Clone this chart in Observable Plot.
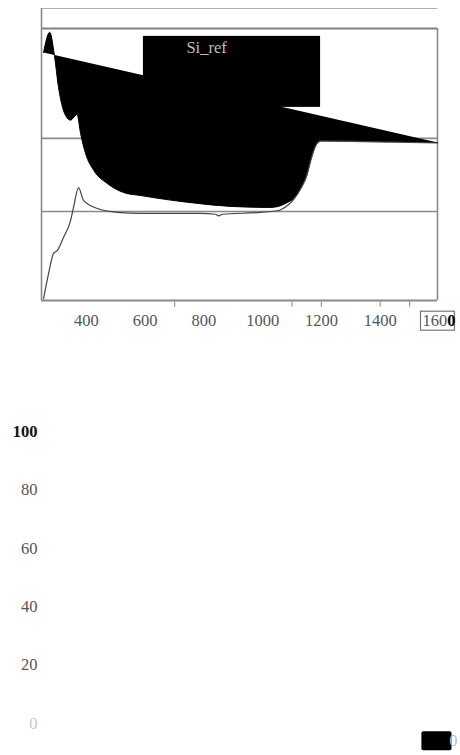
<!DOCTYPE html>
<html>
<head>
<meta charset="utf-8">
<script src="https://cdn.jsdelivr.net/npm/d3@7"></script>
<script src="https://cdn.jsdelivr.net/npm/@observablehq/plot@0.6"></script>
<style>
  html, body { margin: 0; padding: 0; background: #fff; }
  #chart svg { display: block; }
</style>
</head>
<body>
<div id="chart"></div>
<script>
// ---- data ----
const upperX = [254, 275, 291, 305, 329, 346, 358, 368, 380, 397, 425, 471, 526, 584, 680, 778, 890, 1027, 1084, 1105, 1129, 1150, 1163, 1180, 1197, 1300, 1450, 1595];
const upperY = [91.2, 98.6, 90.1, 78.3, 68.0, 66.3, 67.5, 68.4, 61.4, 54.0, 47.8, 43.0, 39.7, 38.6, 37.0, 35.7, 34.6, 34.2, 36.0, 37.5, 41.2, 46.0, 51.5, 57.0, 58.8, 58.7, 58.4, 58.1];

const lowerX = [254, 271, 288, 301, 322, 346, 356, 373, 390, 438, 506, 584, 788, 839, 850, 863, 992, 1054, 1084, 1105, 1129, 1150, 1163, 1180, 1197, 1300, 1450, 1595];
const lowerY = [0.7, 9.9, 17.3, 18.4, 23.2, 29.4, 34.2, 41.5, 36.8, 33.8, 32.4, 32.0, 32.0, 31.7, 31.1, 31.7, 32.4, 33.1, 34.9, 37.1, 41.0, 46.0, 51.3, 56.8, 58.6, 58.5, 58.2, 57.9];

const xTicks = [400, 600, 800, 1000, 1200, 1400, 1600];
const xTickMarks = [700, 1100, 1200, 1400, 1500];
const gridValues = [32.7, 59.6];
const legendLabels = ["Si_ref"];
const legendX1 = [594], legendX2 = [1197], legendY1 = [71.0], legendY2 = [97.1];
const legendTextX = [809], legendTextY = [92.8];
const yTicksLower = [0, 20, 40, 60, 80, 100];
const xTicksLower = [1600];

const xDomain = [247, 1595];

const upper = upperX.map((x, i) => ({x, y: upperY[i]}));
const lower = lowerX.map((x, i) => ({x, y: lowerY[i]}));
const legend = legendLabels.map((t, i) => ({t, x1: legendX1[i], x2: legendX2[i], y1: legendY1[i], y2: legendY2[i], tx: legendTextX[i], ty: legendTextY[i]}));

const font = "'Liberation Serif', 'DejaVu Serif', serif";
const fs = 16.5;

const topPlot = Plot.plot({
  width: 460, height: 340,
  marginLeft: 41, marginRight: 23, marginTop: 8, marginBottom: 40,
  x: {domain: xDomain},
  y: {domain: [0, 107.35], axis: null},
  style: {fontFamily: font, fontSize: fs + "px", color: "#555", background: "white", overflow: "visible"},
  marks: [
    Plot.ruleY(gridValues, {stroke: "#8a8a8a", strokeWidth: 1.6}),
    Plot.ruleY([100], {stroke: "#808080", strokeWidth: 2.2}),
    Plot.ruleY([107.35], {stroke: "#b0b0b0", strokeWidth: 1.2}),
    Plot.ruleY([0], {stroke: "#8a8a8a", strokeWidth: 1.8}),
    Plot.ruleX([xDomain[0]], {stroke: "#8a8a8a", strokeWidth: 1.6}),
    Plot.ruleX([xDomain[1]], {y1: 0, y2: 100, stroke: "#8a8a8a", strokeWidth: 1.6}),
    Plot.ruleX(xTickMarks, {y1: 0, y2: -2.5, stroke: "#999", strokeWidth: 1.2}),
    Plot.line(upper, {x: "x", y: "y", fill: "black", stroke: "black", strokeWidth: 1, curve: "monotone-x"}),
    Plot.line(lower, {x: "x", y: "y", stroke: "#444", strokeWidth: 1.2, curve: "monotone-x"}),
    Plot.rect(legend, {x1: "x1", x2: "x2", y1: "y1", y2: "y2", fill: "black"}),
    Plot.text(legend, {x: "tx", y: "ty", text: "t", fill: "#bdbdbd", fontSize: fs, fontFamily: font}),
    Plot.axisX(xTicks, {tickSize: 0, tickPadding: 14, tickFormat: d => String(d), fontSize: fs, fill: "#555"})
  ]
});

const lowPlot = Plot.plot({
  width: 460, height: 415,
  marginLeft: 41, marginRight: 23, marginTop: 91, marginBottom: 32,
  x: {domain: xDomain},
  y: {domain: [0, 100]},
  style: {fontFamily: font, fontSize: fs + "px", color: "#555", background: "white", overflow: "visible"},
  marks: [
    Plot.axisY(yTicksLower, {tickSize: 0, tickPadding: 4, fontSize: fs, fill: "#555"}),
    Plot.axisX(xTicksLower, {tickSize: 0, tickPadding: 11, fontSize: fs, fill: "black"})
  ]
});

const chart = document.getElementById("chart");
chart.append(topPlot, lowPlot);

// decorate the last top tick label (boxed, last digit heavy)
{
  d3.select(topPlot).selectAll('g[aria-label="x-axis tick label"] text').each(function() {
    const t = d3.select(this);
    const txt = t.text();
    if (txt !== "1600") return;
    const bb = this.getBBox();
    d3.select(this.parentNode).insert("rect", ":first-child")
      .attr("x", bb.x - 2).attr("y", bb.y)
      .attr("width", bb.width + 1).attr("height", bb.height)
      .attr("transform", t.attr("transform"))
      .attr("fill", "white").attr("stroke", "#777").attr("stroke-width", 1.2);
    t.text(txt.slice(0, -1));
    t.append("tspan").attr("fill", "black").attr("font-weight", "bold").text(txt.slice(-1));
  });
}
// lower chart: y label shading and black box over the x label
{
  d3.select(lowPlot).selectAll('g[aria-label="y-axis tick label"] text').each(function() {
    const t = d3.select(this);
    const txt = t.text();
    if (txt === "100") t.attr("fill", "#111").attr("font-weight", "bold");
    else if (txt === "0") t.attr("fill", "#c8c8c8");
  });
  d3.select(lowPlot).selectAll('g[aria-label="x-axis tick label"] text').each(function() {
    const bb = this.getBBox();
    d3.select(this.parentNode).insert("rect", ":first-child")
      .attr("x", bb.x + 1).attr("y", bb.y)
      .attr("width", bb.width - 7).attr("height", bb.height)
      .attr("transform", d3.select(this).attr("transform"))
      .attr("fill", "black").attr("rx", 2);
    const t = d3.select(this);
    const txt = t.text();
    t.text(txt.slice(0, -1));
    t.append("tspan").attr("fill", "#bbb").text(txt.slice(-1));
  });
}
</script>
</body>
</html>
